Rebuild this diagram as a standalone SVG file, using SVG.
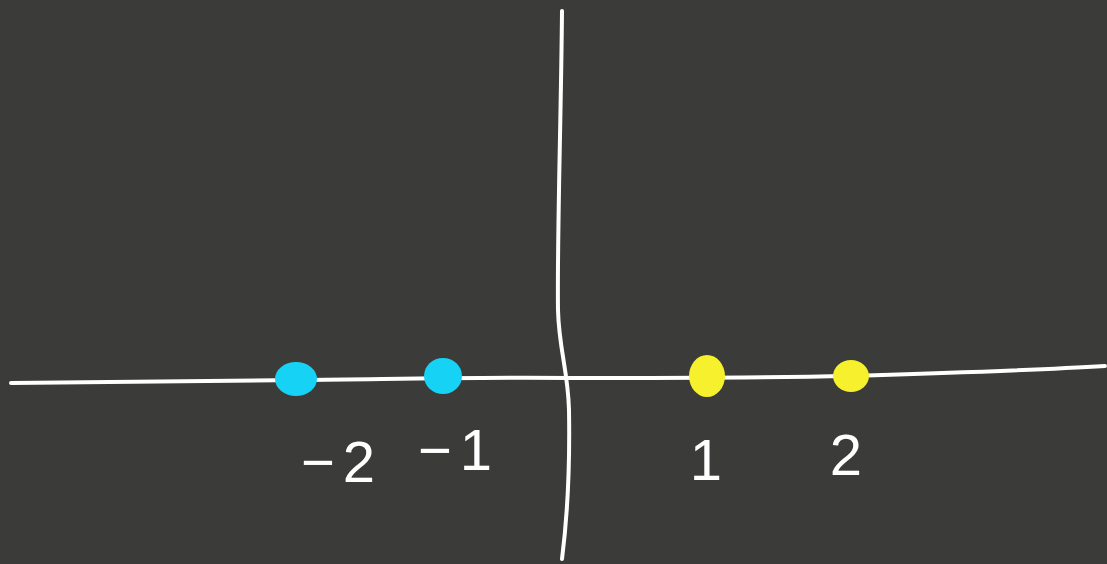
<svg xmlns="http://www.w3.org/2000/svg" width="1107" height="564" viewBox="0 0 1107 564">
<style>
.ax{fill:none;stroke:#ffffff;stroke-width:4;stroke-linecap:round;stroke-linejoin:round}
.lbl{font-family:"Liberation Sans",Arial,sans-serif;font-size:58px;fill:#ffffff;text-anchor:middle;letter-spacing:8px}
.neg{fill:#16d3f6}
.pos{fill:#f7f02c}
</style>
<rect width="1107" height="564" fill="#3b3b3a"/>
<g id="connectors">
<path class="ax" d="M11,383 C120,382 220,380 300,380 C400,379 480,377 570,378 C700,378 800,377 850,376 C950,373 1040,370 1105,366"/>
<path class="ax" d="M562,11 C561,120 557,240 558,310 C559,350 568,370 569,410 C570,470 567,520 562,559"/>
</g>
<g id="pt-neg2"><ellipse class="neg" cx="296" cy="379" rx="21" ry="17"/><text class="lbl" x="342" y="482">−2</text></g>
<g id="pt-neg1"><ellipse class="neg" cx="443" cy="376" rx="19" ry="18"/><text class="lbl" x="459" y="470">−1</text></g>
<g id="pt-1"><ellipse class="pos" cx="707" cy="376" rx="18" ry="21"/><text class="lbl" x="710" y="480">1</text></g>
<g id="pt-2"><ellipse class="pos" cx="851" cy="376" rx="18" ry="16"/><text class="lbl" x="850" y="475">2</text></g>
</svg>
